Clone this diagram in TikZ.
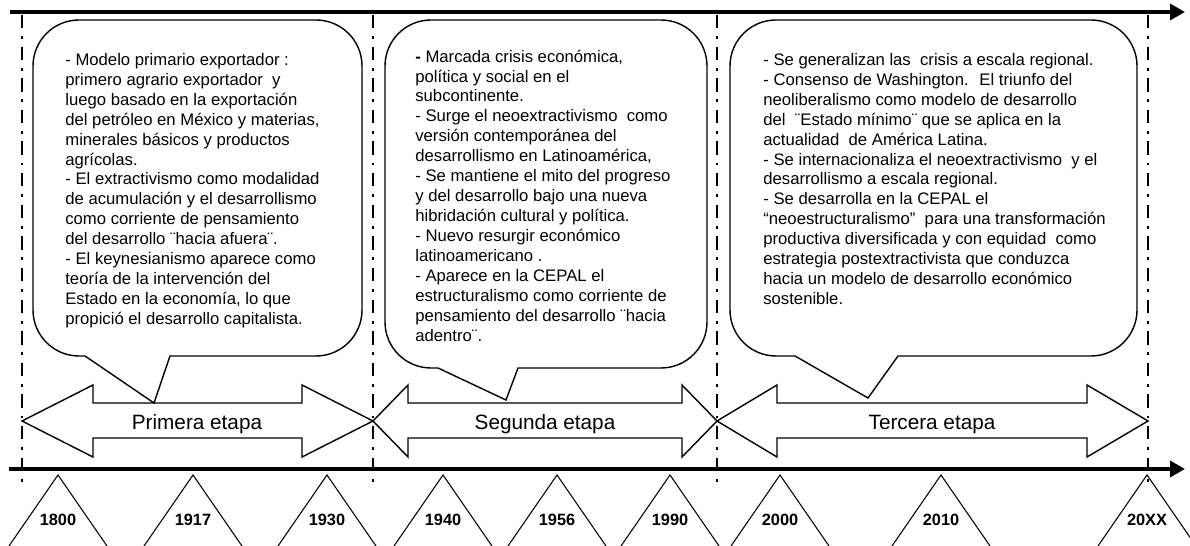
\documentclass[tikz,border=0pt]{standalone}
\usepackage{fontspec}
\setmainfont{Liberation Sans}
\usetikzlibrary{arrows.meta}

\begin{document}
\begin{tikzpicture}[x=0.02cm, y=-0.02cm,
  timeline/.style={line width=2.4pt, -{Triangle[length=8.5pt,width=9pt]}},
  sepline/.style={line width=1.4pt, dash pattern=on 7.6pt off 4.4pt on 1.6pt off 4.4pt},
  bubble/.style={line width=0.8pt, fill=white},
  stage/.style={line width=0.8pt},
  bubbletext/.style={anchor=north west, inner sep=0pt, align=left, font=\fontsize{9.5}{11.34}\selectfont},
  stagetext/.style={anchor=base, inner sep=0pt, font=\fontsize{11.8}{14}\selectfont},
  yeartext/.style={anchor=base, inner sep=0pt, font=\fontsize{9.3}{11}\selectfont\bfseries}]
\useasboundingbox (0,0) rectangle (1190,546);
%\draw[help lines, color=gray!30] (0,0) grid[step=50] (1190,546);
% time axes
\draw[timeline] (10,12)--(1185,12);
\draw[timeline] (9,469)--(1185,469);
% stage limits
\foreach \x in {22,373,717,1148}
  \draw[sepline] (\x,15)--(\x,482);
% stages
\foreach \a/\b/\c/\d/\m/\n/\lbl in {22/93/302/373/197/1/Primera etapa,
    373/408/682/717/545/2/Segunda etapa, 717/777/1087/1148/932/3/Tercera etapa}{
  \draw[stage] (\a,421)--(\b,385)--(\b,403)--(\c,403)--(\c,385)--(\d,421)
    --(\c,457)--(\c,438)--(\b,438)--(\b,457)--cycle;
  \node[stagetext] (stage\n) at (\m,430) {\lbl};
}
% callouts
\foreach \l/\t/\r/\bt/\pa/\px/\py/\pb in {33/20/362/356/85/154/403/170,
    385/20/707/368/438/506/400/518, 730/20/1137/356/795/868/398/898}
  \draw[bubble] (\pa,\bt)--(\px,\py)--(\pb,\bt)--(\r-46,\bt) arc (90:0:46)
    --(\r,\t+46) arc (0:-90:46)--(\l+46,\t) arc (-90:-180:46)
    --(\l,\bt-46) arc (180:90:46)--cycle;
\node[bubbletext] (text1) at (65,53) {- Modelo primario exportador :\\
primero agrario exportador \ y\\
luego basado en la exportación\\
del petróleo en México y materias,\\
minerales básicos y productos\\
agrícolas.\\
- El extractivismo como modalidad\\
de acumulación y el desarrollismo\\
como corriente de pensamiento\\
del desarrollo ¨hacia afuera¨.\\
- El keynesianismo aparece como\\
teoría de la intervención del\\
Estado en la economía, lo que\\
propició el desarrollo capitalista.};
\node[bubbletext] (text2) at (415,49.5) {\textbf{-} Marcada crisis económica,\\
política y social en el\\
subcontinente.\\
- Surge el neoextractivismo \ como\\
versión contemporánea del\\
desarrollismo en Latinoamérica,\\
- Se mantiene el mito del progreso\\
y del desarrollo bajo una nueva\\
hibridación cultural y política.\\
- Nuevo resurgir económico\\
latinoamericano .\\
- Aparece en la CEPAL el\\
estructuralismo como corriente de\\
pensamiento del desarrollo ¨hacia\\
adentro¨.};
\node[bubbletext] (text3) at (763,53) {- Se generalizan las \ crisis a escala regional.\\
- Consenso de Washington. \ El triunfo del\\
neoliberalismo como modelo de desarrollo\\
del \ ¨Estado mínimo¨ que se aplica en la\\
actualidad \ de América Latina.\\
- Se internacionaliza el neoextractivismo \ y el\\
desarrollismo a escala regional.\\
- Se desarrolla en la CEPAL el\\
“neoestructuralismo” \ para una transformación\\
productiva diversificada y con equidad \ como\\
estrategia postextractivista que conduzca\\
hacia un modelo de desarrollo económico\\
sostenible.};
% years
\foreach \x/\yr in {58/1800,193/1917,327/1930,443/1940,557/1956,670/1990,780/2000,941/2010,1147/20XX}{
  \draw[line width=0.6pt] (\x-49,546)--(\x,475)--(\x+49,546);
  \node[yeartext] (y\yr) at (\x,526) {\yr};
}
\end{tikzpicture}
\end{document}
